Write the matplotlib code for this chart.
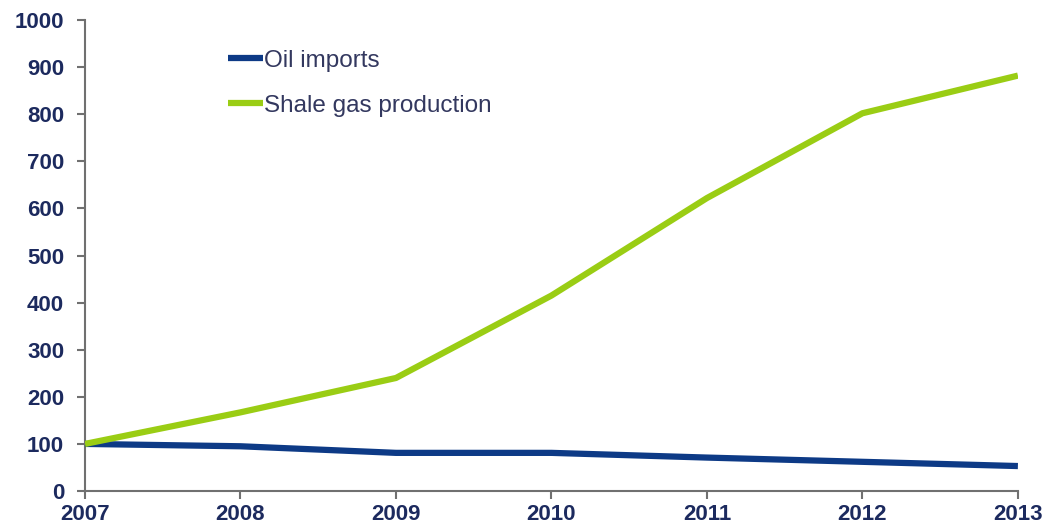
import matplotlib
matplotlib.use("Agg")
from matplotlib import pyplot as plt

years = [2007, 2008, 2009, 2010, 2011, 2012, 2013]
oil_imports = [100, 95, 81, 81, 71, 62, 53]
shale_gas = [100, 167, 240, 415, 622, 802, 882]

navy = "#0d3a86"
green = "#9acd14"
label_col = "#1c2a5e"

fig = plt.figure(figsize=(10.44, 5.31), dpi=100)
ax = fig.add_axes([0.0814, 0.0753, 0.8936, 0.887])

ax.plot(years, oil_imports, color=navy, lw=4.5, solid_capstyle="butt", label="Oil imports")
ax.plot(years, shale_gas, color=green, lw=4.5, solid_capstyle="butt", label="Shale gas production")

ax.set_xlim(2007, 2013)
ax.set_ylim(0, 1000)
ax.set_xticks(years)
ax.set_yticks(range(0, 1001, 100))

for s in ["top", "right"]:
    ax.spines[s].set_visible(False)
for s in ["left", "bottom"]:
    ax.spines[s].set_color("#707070")
    ax.spines[s].set_linewidth(1.5)
    ax.spines[s].set_zorder(0)

ax.tick_params(axis="both", colors="#707070", width=1.5, length=6,
               labelcolor=label_col, labelsize=16)
ax.tick_params(axis="y", pad=9)
ax.tick_params(axis="x", pad=3)
for t in ax.get_xticklabels() + ax.get_yticklabels():
    t.set_fontweight("bold")
    t.set_fontfamily("Liberation Sans")

leg = ax.legend(loc="upper left", bbox_to_anchor=(0.153, 0.937), frameon=False,
                borderaxespad=0, borderpad=0,
                handlelength=1.45, handletextpad=0.05, labelspacing=0.95,
                prop={"family": "Liberation Sans", "size": 17.5})
for t in leg.get_texts():
    t.set_color("#33385f")

fig.savefig("out.png", dpi=100)
